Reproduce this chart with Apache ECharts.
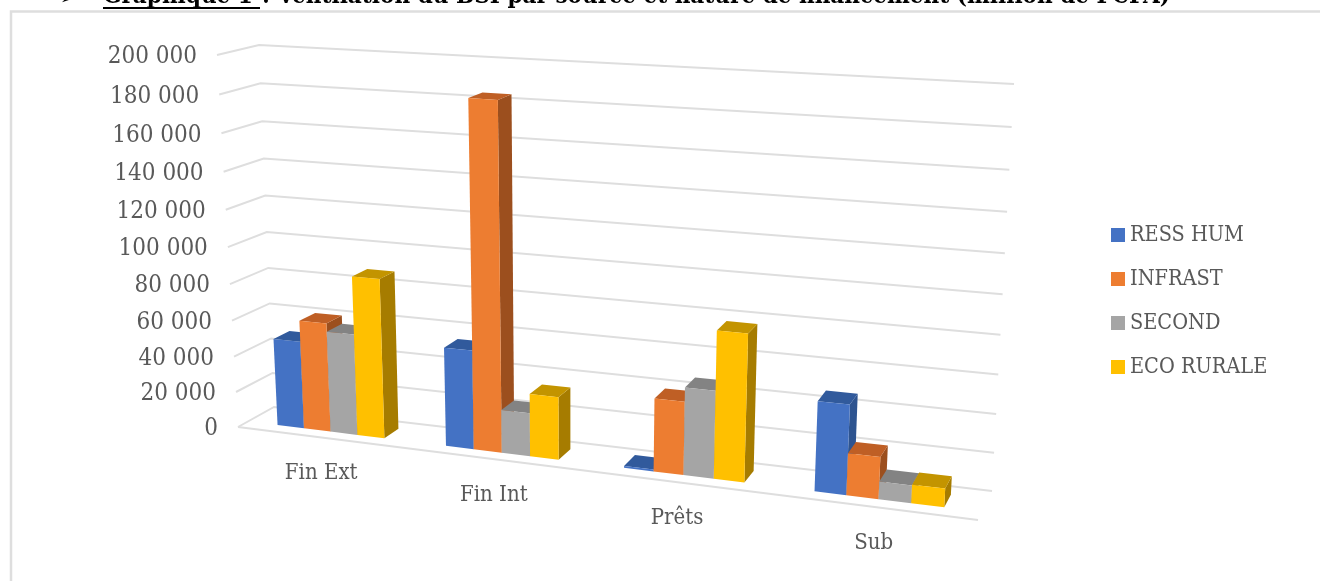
<!DOCTYPE html>
<html><head><meta charset="utf-8">
<style>html,body{margin:0;padding:0;background:#fff}#c{width:1320px;height:581px}</style>
<script src="https://cdn.jsdelivr.net/npm/echarts@6/dist/echarts.min.js"></script>
</head><body><div id="c"></div>
<script>
const categories = ['Fin Ext', 'Fin Int', 'Prêts', 'Sub'];
const seriesNames = ['RESS HUM', 'INFRAST', 'SECOND', 'ECO RURALE'];
const ressHum = [48800, 54000, 1000, 46800];
const infrast = [60500, 184000, 39000, 21800];
const second = [56000, 23500, 46500, 9200];
const ecoRurale = [87500, 34000, 77500, 9600];
const tickValues = [0, 20000, 40000, 60000, 80000, 100000, 120000, 140000, 160000, 180000, 200000];
const tickLabels = ['0', '20 000', '40 000', '60 000', '80 000', '100 000', '120 000', '140 000', '160 000', '180 000', '200 000'];

const seriesValues = [ressHum, infrast, second, ecoRurale];
const faces = [
  {front: '#4472C4', top: '#315A9C', side: '#2E5490'},
  {front: '#ED7D31', top: '#BF5F25', side: '#9C4F1E'},
  {front: '#A5A5A5', top: '#838383', side: '#6F6F6F'},
  {front: '#FFC000', top: '#C39400', side: '#A67C00'}
];
const FONT = '"DejaVu Serif Condensed","DejaVu Serif",serif';
const TEXT = '#595959', LINE = '#DEDEDE';
const G = {left: 238, top: 55, width: 740, height: 372};
// corners of the 3D box on screen: [u][v][w]
const C = {
  '000': [238, 427], '001': [217, 55], '010': [274, 407], '011': [259, 45],
  '100': [978, 520], '101': [1003, 100], '110': [992, 491], '111': [1014, 84]
};
const easeU = u => .87 * u + .13 * u * u + .02 * u * (1 - u) * (1 - 2 * u);
const easeW = w => .934 * w + .066 * w * w;
function project(u0, v, w0) {
  const u = easeU(u0), w = easeW(w0), p = [0, 0];
  for (let a = 0; a < 2; a++) for (let b = 0; b < 2; b++) for (let c = 0; c < 2; c++) {
    const k = (a ? u : 1 - u) * (b ? v : 1 - v) * (c ? w : 1 - w), q = C['' + a + b + c];
    p[0] += k * q[0]; p[1] += k * q[1];
  }
  return p;
}
const toU = x => (x - G.left) / G.width;
const toW = y => (G.top + G.height - y) / G.height;
const V0 = .28, V1 = .72, GROUP = .64;

function barSeries(name, s) {
  return {
    name, type: 'custom', coordinateSystem: 'cartesian2d', silent: true, clip: false, z: 3 + s,
    itemStyle: {color: faces[s].front},
    data: seriesValues[s].map((v, i) => [i, v]),
    renderItem(params, api) {
      const pt = api.coord([api.value(0), api.value(1)]);
      const band = api.size([1, 0])[0], w = toW(pt[1]), bw = band * GROUP / 4;
      const x0 = pt[0] - band * GROUP / 2 + s * bw, u0 = toU(x0), u1 = toU(x0 + bw);
      const poly = (pts, fill) => ({type: 'polygon', shape: {points: pts}, style: {fill}});
      return {type: 'group', children: [
        poly([project(u1, V0, 0), project(u1, V1, 0), project(u1, V1, w), project(u1, V0, w)], faces[s].side),
        poly([project(u0, V0, w), project(u1, V0, w), project(u1, V1, w), project(u0, V1, w)], faces[s].top),
        poly([project(u0, V0, 0), project(u1, V0, 0), project(u1, V0, w), project(u0, V0, w)], faces[s].front)
      ]};
    }
  };
}
const wallSeries = {
  type: 'custom', coordinateSystem: 'cartesian2d', silent: true, clip: false, z: 1,
  data: tickValues.map((v, i) => [0, v, i]),
  renderItem(params, api) {
    const w = toW(api.coord([0, api.value(1)])[1]), i = api.value(2);
    const a = project(0, 0, w);
    const kids = [
      {type: 'polyline', shape: {points: [a, project(0, 1, w), project(1, 1, w)]}, style: {stroke: LINE, lineWidth: 2, fill: 'none'}},
      {type: 'text', style: {text: tickLabels[i], x: a[0] - 20, y: a[1] + 2, align: 'right', verticalAlign: 'middle', font: '24px ' + FONT, fill: TEXT}}
    ];
    if (i === 0) kids.push({type: 'line', shape: {x1: a[0], y1: a[1], x2: project(1, 0, 0)[0], y2: project(1, 0, 0)[1]}, style: {stroke: LINE, lineWidth: 2}});
    return {type: 'group', children: kids};
  }
};
const catSeries = {
  type: 'custom', coordinateSystem: 'cartesian2d', silent: true, clip: false, z: 2,
  data: categories.map((c, i) => [i, 0]),
  renderItem(params, api) {
    const pt = api.coord([api.value(0), 0]), p = project(toU(pt[0]), 0, 0);
    return {type: 'text', style: {text: categories[api.value(0)], x: p[0], y: p[1] + 36, align: 'center', verticalAlign: 'middle', font: '22px ' + FONT, fill: TEXT}};
  }
};
const chart = echarts.init(document.getElementById('c'), null, {renderer: 'canvas'});
chart.setOption({
  animation: false,
  backgroundColor: '#fff',
  grid: {left: G.left, top: G.top, width: G.width, height: G.height},
  xAxis: {type: 'category', data: categories, show: false},
  yAxis: {type: 'value', min: 0, max: 200000, interval: 20000, show: false},
  legend: {
    data: seriesNames, orient: 'vertical', left: 1106, top: 219, icon: 'rect',
    itemWidth: 14, itemHeight: 14, itemGap: 22,
    textStyle: {fontFamily: FONT, fontSize: 21.5, color: TEXT}
  },
  graphic: [
    {type: 'polyline', z: 0, shape: {points: [[11, 581], [11, 11.5], [1320, 11.5]]}, style: {stroke: LINE, lineWidth: 2.5, fill: 'none'}},
    {type: 'text', x: 60, y: -10, style: {text: '➢', font: 'bold 18px "DejaVu Sans"', fill: '#000'}},
    {type: 'text', x: 103, y: -15, style: {text: 'Graphique 1', font: 'bold 24px "DejaVu Serif Condensed"', fill: '#000'}},
    {type: 'text', x: 262, y: -15, style: {text: ': Ventilation du BSI par source et nature de financement (million de FCFA)', font: 'bold 24px "DejaVu Serif Condensed"', fill: '#000'}},
    {type: 'rect', shape: {x: 103, y: 7, width: 157, height: 2}, style: {fill: '#000'}}
  ],
  series: [wallSeries, catSeries].concat(seriesNames.map(barSeries))
});
</script></body></html>
